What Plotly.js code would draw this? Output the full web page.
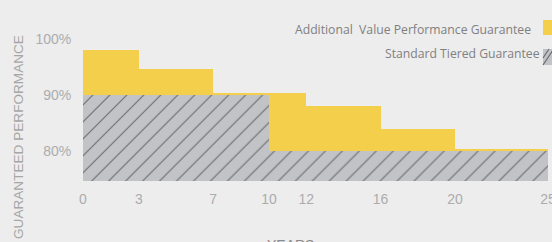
<!DOCTYPE html>
<html>
<head>
<meta charset="utf-8">
<script src="https://cdn.plot.ly/plotly-3.0.1.min.js"></script>
<style>
html,body{margin:0;padding:0;background:#ededed;}
#chart{width:552px;height:242px;}
</style>
</head>
<body>
<div id="chart"></div>
<script>
// Data
var standardEdges = [0, 10, 25];
var standardValues = [90, 80];
var additionalEdges = [0, 3, 7, 12, 16, 20, 25];
var additionalValues = [98, 94.6, 90.3, 88, 84, 80.3];
var xTickVals = [0, 3, 7, 10, 12, 16, 20, 25];
var yTickVals = [80, 90, 100];
var yTickText = ['80%', '90%', '100%'];
var baseValue = 74.64;

function mids(e){var r=[];for(var i=0;i<e.length-1;i++)r.push((e[i]+e[i+1])/2);return r;}
function widths(e){var r=[];for(var i=0;i<e.length-1;i++)r.push(e[i+1]-e[i]);return r;}
function heights(v){return v.map(function(x){return x-baseValue;});}

var yellow = '#f4cf4c';
var greyFill = '#c2c3c7';
var hatch = '#6a6a6e';

var traces = [
  {
    type:'bar', name:'Additional  Value Performance Guarantee',
    x: mids(additionalEdges), width: widths(additionalEdges),
    y: heights(additionalValues), base: baseValue,
    marker:{color:yellow, line:{width:0}},
    hoverinfo:'skip', showlegend:false
  },
  {
    type:'bar', name:'Standard Tiered Guarantee',
    x: mids(standardEdges), width: widths(standardEdges),
    y: heights(standardValues), base: baseValue,
    marker:{color:greyFill, line:{width:0},
      pattern:{shape:'/', fgcolor:hatch, bgcolor:greyFill, size:12, solidity:0.09}},
    hoverinfo:'skip', showlegend:false
  }
];

var tickFont = {family:'Liberation Sans, Arial, sans-serif', size:14, color:'#acacac'};

var layout = {
  width:552, height:242,
  paper_bgcolor:'#ededed', plot_bgcolor:'#ededed',
  margin:{l:83, r:4, t:20, b:61},
  barmode:'overlay', bargap:0,
  showlegend:false,
  xaxis:{
    range:[0,25], tickvals:xTickVals, ticktext:xTickVals.map(String),
    showgrid:false, zeroline:false, showline:false,
    ticks:'outside', ticklen:5, tickcolor:'rgba(0,0,0,0)',
    ticklabeloverflow:'allow',
    tickfont:tickFont, fixedrange:true
  },
  yaxis:{
    range:[baseValue, 103.39], tickvals:yTickVals, ticktext:yTickText,
    showgrid:false, zeroline:false, showline:false,
    ticks:'outside', ticklen:8, tickcolor:'rgba(0,0,0,0)',
    tickfont:tickFont, fixedrange:true
  },
  annotations:[
    {xref:'paper', yref:'paper', x:-(83-18)/465, y:(181-137)/161, xanchor:'center', yanchor:'middle',
     text:'GUARANTEED PERFORMANCE', showarrow:false, textangle:-90,
     font:{family:'Liberation Sans, Arial, sans-serif', size:13.6, color:'#a6a6a6'}},
    {xref:'paper', yref:'paper', x:(290-83)/465, y:-(235-181)/161, xanchor:'center', yanchor:'top',
     text:'YEARS', showarrow:false,
     font:{family:'Liberation Sans, Arial, sans-serif', size:14, color:'#8a8a8a'}},
    {xref:'paper', yref:'paper', x:(533-83)/465, y:(181-29)/161, xanchor:'right', yanchor:'middle',
     text:'Additional  Value Performance Guarantee', showarrow:false,
     font:{family:'Open Sans, sans-serif', size:12.2, color:'#808080'}},
    {xref:'paper', yref:'paper', x:(542-83)/465, y:(181-53)/161, xanchor:'right', yanchor:'middle',
     text:'Standard Tiered Guarantee', showarrow:false,
     font:{family:'Open Sans, sans-serif', size:12.2, color:'#808080'}}
  ],
  shapes:[
    {type:'rect', xref:'paper', yref:'paper', x0:(543-83)/465, x1:(560-83)/465,
     y0:(181-20)/161, y1:(181-35)/161, fillcolor:yellow, line:{width:0}},
    {type:'rect', xref:'paper', yref:'paper', x0:(543-83)/465, x1:(560-83)/465,
     y0:(181-49)/161, y1:(181-65)/161, fillcolor:greyFill, line:{width:0}},
    {type:'line', xref:'paper', yref:'paper', x0:(543-83)/465, x1:(549-83)/465,
     y0:(181-58)/161, y1:(181-49)/161, line:{color:hatch, width:1.2}},
    {type:'line', xref:'paper', yref:'paper', x0:(543-83)/465, x1:(553-83)/465,
     y0:(181-65)/161, y1:(181-50)/161, line:{color:hatch, width:1.2}}
  ]
};

Plotly.newPlot('chart', traces, layout, {displayModeBar:false, staticPlot:true});
</script>
</body>
</html>
